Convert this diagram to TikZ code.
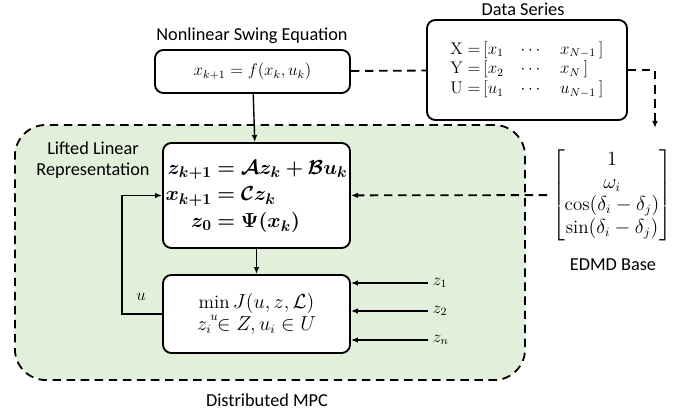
\documentclass[tikz,border=0pt]{standalone}
\usepackage{amsmath,amssymb,bm}
\usepackage{fontspec}
\newfontfamily\lblfont{Carlito}
\usetikzlibrary{arrows.meta}
\definecolor{mpcgreen}{HTML}{E2EFDA}
\tikzset{
	blk/.style={draw, line width=1.3pt, rounded corners=6pt, fill=white, align=center, inner sep=1pt},
	lbl/.style={font=\lblfont\fontsize{13}{15}\selectfont, align=center},
	conn/.style={line width=1pt, -{Latex[length=5pt,width=4pt]}},
	dconn/.style={conn, line width=1.3pt, dash pattern=on 6pt off 4pt},
}

\begin{document}
\begin{tikzpicture}[x=0.025cm,y=-0.025cm]
			\useasboundingbox (0,0) rectangle (696,413);
			\node (dmpc)[draw, line width=1.3pt, dash pattern=on 6pt off 4pt, rounded corners=22pt, fill=mpcgreen, minimum width=12.75cm, minimum height=6.375cm] at (270,252.5) {};
			\node (dmpclbl)[lbl] at (267,400) {Distributed MPC};

			\node (eqn)[blk, minimum width=4.875cm, minimum height=1.075cm] at (252.5,71.5) {\large $x_{k+1} = f(x_k, u_k)$};
			\node (eqnlbl)[lbl] at (252,36) {Nonlinear Swing Equation};

			\node (data)[blk, minimum width=5cm, minimum height=2.5cm] at (527,70) {\large $\begin{array}{r@{\,}l@{\quad}c@{\quad}l}
				\mathrm{X}= & [x_1 & \cdots & x_{N-1}\,] \\
				\mathrm{Y}= & [x_2 & \cdots & x_N\,] \\
				\mathrm{U}= & [u_1 & \cdots & u_{N-1}\,]
			\end{array}$};
			\node (datalbl)[lbl] at (523,9) {Data Series};

			\node (lifted)[blk, minimum width=4.675cm, minimum height=2.625cm] at (256.5,195.5) {\fontsize{15.5}{19}\selectfont $\begin{array}{@{}r@{\;}l@{}}
				\bm{z_{k+1}} &\bm{= \mathcal{A} z_k + \mathcal{B} u_k} \\
				\bm{x_{k+1}} &\bm{= \mathcal{C} z_k} \\
				\bm{z_0} &\bm{= \Psi(x_k)}
			\end{array}$};
			\node (liftedlbl)[lbl] at (93,160) {Lifted Linear\\Representation};

			\node (mpc)[blk, minimum width=4.675cm, minimum height=1.95cm] at (256.5,314) {\fontsize{13.5}{16}\selectfont $\displaystyle\min_u J(u,z,\mathcal{L})$\\[-5pt] \fontsize{13.5}{16}\selectfont $z_i \in Z, u_i \in U$};

			\node (edmd) at (612,195) {\fontsize{13.5}{16}\selectfont $\begin{bmatrix} 1 \\ \omega_i \\ \cos(\delta_i-\delta_j) \\ \sin(\delta_i-\delta_j) \end{bmatrix}$};
			\node (edmdlbl)[lbl] at (613,265) {EDMD Base};

			\node (z1)[right] at (428,283) {\large $z_1$};
			\node (z2)[right] at (428,311) {\large $z_2$};
			\node (zn)[right] at (428,340) {\large $z_n$};
			\node (ulbl) at (141,297) {\large $u$};
			\coordinate (edmdtop) at (655,128);

			\draw [conn](eqn) -- (lifted);
			\draw [conn](lifted) -- (mpc);
			\draw [conn](mpc.west) -- ++(-40,0) |- (lifted.west);
			\draw [dconn, -](eqn) -- (data);
			\draw [dconn](data.east) -| (edmdtop);
			\draw [dconn](edmd) -- (lifted);
			\draw [conn](z1.west) -- (mpc.east |- z1.west);
			\draw [conn](z2.west) -- (mpc.east |- z2.west);
			\draw [conn](zn.west) -- (mpc.east |- zn.west);
		\end{tikzpicture}
\end{document}
